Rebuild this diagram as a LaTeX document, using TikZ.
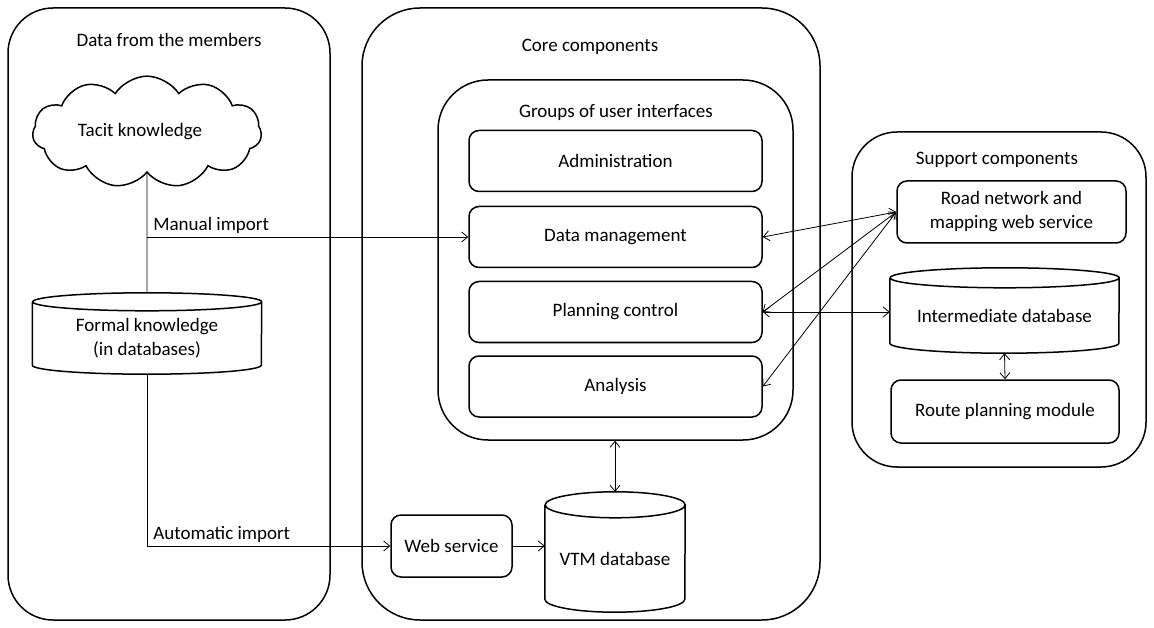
\documentclass[tikz,border=0pt]{standalone}
\usepackage{fontspec}
\setmainfont{Carlito}
\usetikzlibrary{arrows.meta,shapes.symbols}

% database drawn as a cylinder around a named node:
% name, centre x, centre y, width, height, end-cap half height, text
\newcommand\dbcyl[7]{%
  \node[inner sep=0pt, minimum width=#4, minimum height=#5] (#1) at (#2,#3) {};
  \draw[boxline] ([yshift=-#6pt]#1.north west) -- ([yshift=#6pt]#1.south west)
    arc[start angle=180, end angle=360, x radius=#4pt/2, y radius=#6pt]
    -- ([yshift=-#6pt]#1.north east)
    arc[start angle=0, end angle=360, x radius=#4pt/2, y radius=#6pt];
  \node[align=center, inner sep=0pt] (#1label) at ([yshift=-#6pt/2]#1.center) {#7};
}

\begin{document}
\begin{tikzpicture}[x=1pt, y=-1pt,
  every node/.style={font=\fontsize{19}{24}\selectfont},
  boxline/.style={line width=1.5pt},
  panel/.style={boxline, draw, inner sep=0pt},
  uibox/.style={boxline, draw, rounded corners=10pt, inner sep=0pt,
                minimum width=293, minimum height=61, align=center},
  title/.style={inner sep=0pt},
  link/.style={line width=0.8pt},
  every path/.style={>={Straight Barb[length=6pt,width=10pt]}}]

\useasboundingbox (0,0) rectangle (1154,628);

% outer panels
\node[panel, rounded corners=45pt, minimum width=322, minimum height=612] (members) at (169,314) {};
\node[panel, rounded corners=58pt, minimum width=458, minimum height=612] (core) at (591,314) {};
\node[panel, rounded corners=50pt, minimum width=355, minimum height=360] (group) at (615.5,260) {};
\node[panel, rounded corners=45pt, minimum width=294, minimum height=335] (support) at (999,299.5) {};

\node[title] (memberst) at (169,40) {Data from the members};
\node[title] (coret) at (590,47) {Core components};
\node[title] (groupt) at (616,112) {Groups of user interfaces};
\node[title] (supportt) at (997,160) {Support components};

% user interfaces
\node[uibox] (admin) at (615.5,161) {Administration};
\node[uibox] (dm) at (615.5,237) {Data management};
\node[uibox] (pc) at (615.5,312) {Planning control};
\node[uibox] (an) at (615.5,386.5) {Analysis};

% support components
\node[uibox, minimum width=229, minimum height=62] (road) at (1011.5,212)
  {Road network and\\mapping web service};
\dbcyl{idb}{1004.5}{310.5}{229}{85}{10}{Intermediate database}
\node[uibox, minimum width=228, minimum height=63] (route) at (1005,411.5) {Route planning module};

% member data
\node[cloud, draw, boxline, cloud puffs=11, cloud puff arc=115, aspect=2.3,
      minimum width=229, minimum height=99, inner sep=0pt] (tacit) at (147,132) {Tacit knowledge\hspace*{14pt}};
\dbcyl{formal}{147}{333.5}{229}{81}{9}{Formal knowledge\\(in databases)}

% core storage
\node[uibox, minimum width=121, minimum height=62] (ws) at (451.5,546) {Web service};
\dbcyl{vtm}{615}{552}{140}{120}{13}{VTM database}

% connectors
\coordinate (mi) at (tacit.south |- dm.west);
\coordinate (ai) at (formal.south |- ws.west);
\draw[link] (tacit.south) -- (formal.north);
\draw[link, ->] (mi) -- node[pos=0, above right, inner sep=3pt, xshift=3pt] (milabel) {Manual import} (dm.west);
\draw[link] (formal.south) -- (ai);
\draw[link, ->] (ai) -- node[pos=0, above right, inner sep=3pt, xshift=3pt] (ailabel) {Automatic import} (ws.west);
\draw[link, ->] (ws.east) -- (ws.east -| vtm.west);
\draw[link, <->] (vtm.north |- group.south) -- (vtm.north);
\draw[link, <->] (dm.east) -- (road.west);
\draw[link, <->] (pc.east) -- (road.west);
\draw[link, <->] (an.east) -- (road.west);
\draw[link, <->] (pc.east) -- (pc.east -| idb.west);
\draw[link, <->] (idb.south) -- (route.north);
\end{tikzpicture}
\end{document}
